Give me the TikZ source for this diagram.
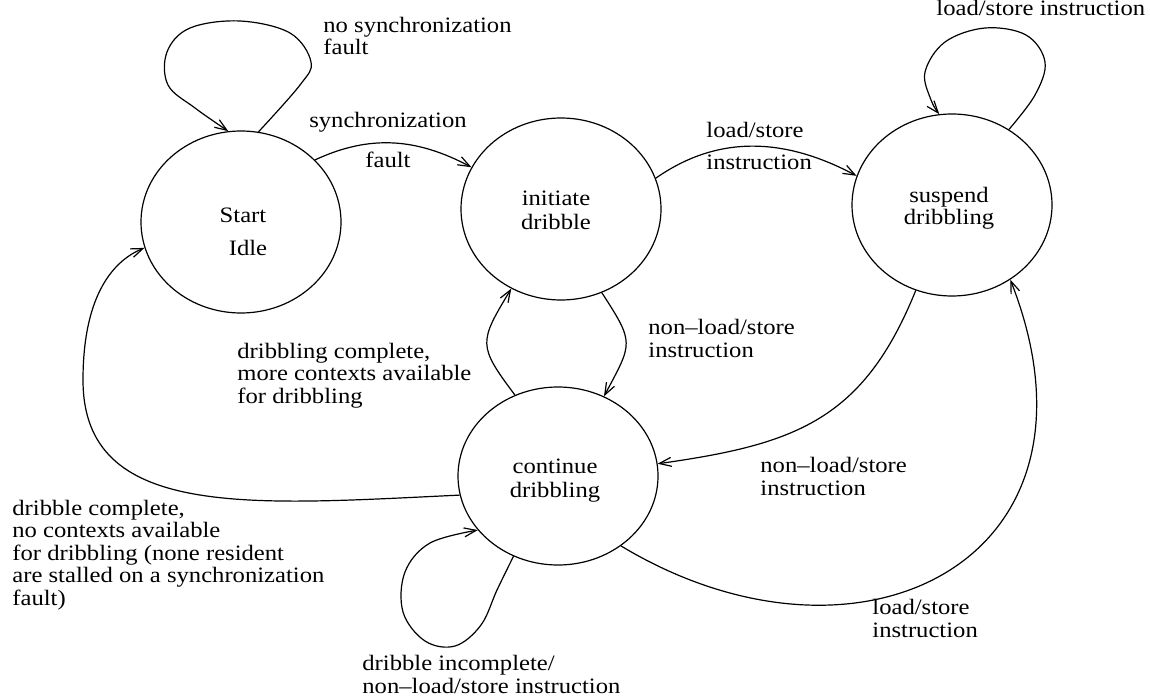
\documentclass[tikz,border=0pt]{standalone}
\usepackage{fontspec}
\setmainfont{Liberation Serif}[FakeStretch=1.12]
\usetikzlibrary{arrows.meta,shapes.geometric}
\begin{document}
\begin{tikzpicture}[x=0.5pt,y=0.5pt,
  every node/.style={font=\fontsize{11}{11.25}\selectfont},
  state/.style={draw,ellipse,minimum width=100pt,minimum height=91pt,inner sep=0pt,line width=0.6pt},
  stxt/.style={align=center,anchor=base,inner sep=0pt},
  edge/.style={draw,line width=0.6pt,-{Straight Barb[length=6pt,width=4.5pt]}},
  lbl/.style={inner sep=0pt,align=left,anchor=base west}]
\useasboundingbox (0,0) rectangle (1150,-700);

% states (text anchored on the baseline of its last line)
\node[state] (S) at (241,-222) {};
\node[stxt] (St) at (243,-256) {Start\\[5.5pt]\hspace*{5pt}Idle};
\node[state] (I) at (561,-209) {};
\node[stxt] (It) at (556,-230) {initiate\\[1.25pt]dribble};
\node[state] (P) at (952,-205) {};
\node[stxt] (Pt) at (949,-225) {suspend\\dribbling};
\node[state,minimum height=89pt] (C) at (558,-476) {};
\node[stxt] (Ct) at (555,-497) {continue\\[0.75pt]dribbling};

% transitions
\draw[edge] plot[smooth,tension=0.6] coordinates {(S.79) (300,-85) (311,-62) (290,-33) (240,-21) (190,-28) (167,-52) (168,-85) (195,-108) (S.98)};
\draw[edge] (S.40) to[out=25,in=152] (I.155);
\draw[edge] (I.18) to[out=35,in=152] (P.163);
\draw[edge] plot[smooth,tension=0.6] coordinates {(P.53) (1035,-95) (1045,-62) (1026,-35) (985,-28) (945,-42) (925,-72) (931,-100) (P.98)};
\draw[edge] (I.-64) to[out=-57,in=62,looseness=1.5] (C.60);
\draw[edge] (C.118) to[out=127,in=-121,looseness=1.5] (I.238);
\draw[edge] (P.247) to[out=-112,in=8,looseness=1.15] (C.7);
\draw[edge] (C.-48) .. controls (860,-690) and (1120,-560) .. (P.-52);
\draw[edge] plot[smooth,tension=0.6] coordinates {(C.241) (497,-590) (481,-625) (455,-646) (425,-641) (403,-612) (405,-572) (430,-543) (C.214)};
\draw[edge] (C.191) .. controls (250,-505) and (83,-520) .. (83,-380) .. controls (83,-300) and (110,-262) .. (S.195);

% labels (anchored on the baseline of their last line)
\node[lbl] (l1) at (323,-55) {no synchronization\\fault};
\node[lbl,align=center,anchor=base] (l2) at (388,-168) {synchronization\\[9pt]fault};
\node[lbl] (l3) at (706,-170) {load/store\\[5pt]instruction};
\node[lbl] (l4) at (936,-16) {load/store instruction};
\node[lbl] (l5) at (648,-357) {non--load/store\\instruction};
\node[lbl] (l6) at (237,-403) {dribbling complete,\\more contexts available\\for dribbling};
\node[lbl] (l7) at (760,-495) {non--load/store\\instruction};
\node[lbl] (l8) at (872,-637) {load/store\\instruction};
\node[lbl] (l9) at (362,-693) {dribble incomplete/\\non--load/store instruction};
\node[lbl] (l10) at (12,-605) {dribble complete,\\no contexts available\\for dribbling (none resident\\are stalled on a synchronization\\fault)};
\end{tikzpicture}
\end{document}
